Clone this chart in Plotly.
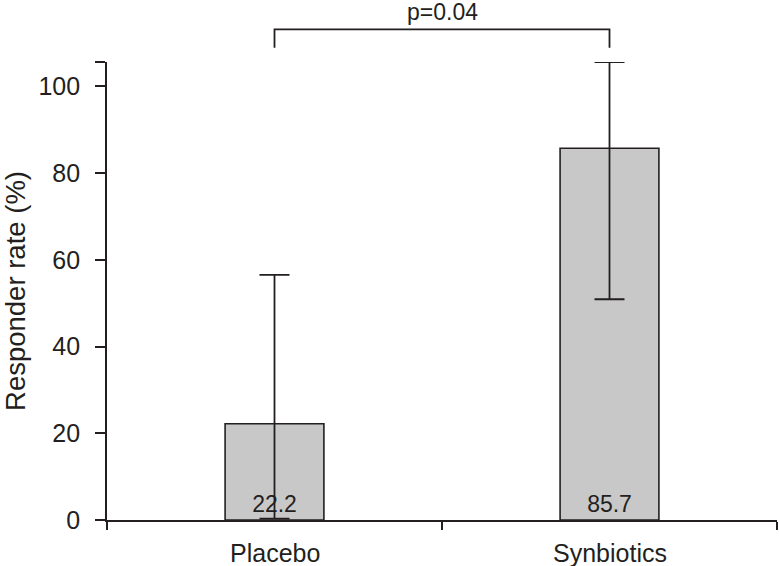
import plotly.graph_objects as go

categories = ["Placebo", "Synbiotics"]
rates = [22.2, 85.7]
err_plus = [34.3, 19.9]
err_minus = [21.9, 34.8]
bar_labels = ["22.2", "85.7"]
y_ticks = [0, 20, 40, 60, 80, 100]
p_text = "p=0.04"

y_top = 105.6
x_range = [-0.5, 1.5]
ink = "#231f20"
font_family = "Liberation Sans, Arial, sans-serif"

fig = go.Figure()
fig.add_trace(go.Bar(
    x=list(range(len(categories))), y=rates, width=0.295,
    marker=dict(color="#c8c8c8", line=dict(color=ink, width=1.6)),
    text=bar_labels, textposition="inside", insidetextanchor="start",
    textfont=dict(size=23, color=ink, family=font_family),
    textangle=0,
    error_y=dict(type="data", symmetric=False, array=err_plus, arrayminus=err_minus,
                 color=ink, thickness=1.8, width=15),
    cliponaxis=False,
))

tickvals = y_ticks + [y_top]
ticktext = [str(v) for v in y_ticks] + [""]

fig.update_layout(
    width=779, height=566,
    margin=dict(l=107, r=2, t=62, b=46),
    plot_bgcolor="white", paper_bgcolor="white",
    showlegend=False,
    font=dict(family=font_family, size=25, color=ink),
    xaxis=dict(
        range=x_range, tickmode="array",
        tickvals=[-0.5, 0.5, 1.5], ticktext=["", "", ""],
        showgrid=False, zeroline=False, showline=True, linecolor=ink, linewidth=1.8,
        ticks="outside", ticklen=8, tickwidth=1.8, tickcolor=ink,
    ),
    yaxis=dict(
        range=[0, y_top], tickmode="array", tickvals=tickvals, ticktext=ticktext,
        showgrid=False, zeroline=False, showline=True, linecolor=ink, linewidth=1.8,
        ticks="outside", ticklen=10, tickwidth=1.8, tickcolor=ink,
        ticklabelstandoff=10,
        title=dict(text="Responder rate (%)", font=dict(size=27.5), standoff=13),
        automargin=False,
    ),
)

# category labels below axis
for i, c in enumerate(categories):
    fig.add_annotation(x=i, y=0, xref="x", yref="y", text=c, showarrow=False,
                       yanchor="top", yshift=-17, font=dict(size=25, color=ink))

# significance bracket
def xp(i):
    return (i - x_range[0]) / (x_range[1] - x_range[0])

plot_h = 566 - 62 - 46
y_h = 1 + (62 - 29.3) / plot_h
y_l = 1 + (62 - 47.7) / plot_h
x0, x1 = xp(0), xp(1)
fig.add_shape(type="path", xref="paper", yref="paper",
              path=f"M {x0} {y_l} L {x0} {y_h} L {x1} {y_h} L {x1} {y_l}",
              line=dict(color=ink, width=1.8))
fig.add_annotation(x=(x0 + x1) / 2, y=y_h, xref="paper", yref="paper", text=p_text,
                   showarrow=False, yanchor="bottom", yshift=2,
                   font=dict(size=23, color=ink))

fig.write_html("out.html", config={"displayModeBar": False},
               post_script="document.body.style.margin='0';document.body.style.overflow='hidden';")
